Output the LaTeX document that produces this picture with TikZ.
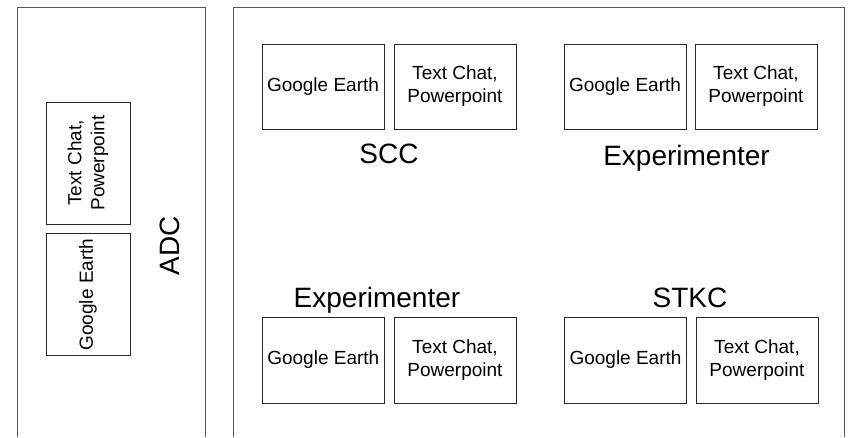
\documentclass[tikz,border=0pt]{standalone}
\usepackage{fontspec}
\setmainfont{Liberation Sans}
\begin{document}
\begin{tikzpicture}[x=1pt,y=-1pt,
  panel/.style={draw=black!65, line width=1pt},
  appbox/.style={draw=black!85, line width=1pt, minimum width=122pt, minimum height=85pt,
    inner sep=0pt, align=center, font=\fontsize{19}{23}\selectfont},
  sideapp/.style={appbox, rotate=90, minimum width=122pt, minimum height=84pt},
  grouplabel/.style={anchor=base, inner sep=0pt, font=\fontsize{28}{32}\selectfont}]
\useasboundingbox (0,0) rectangle (850,437);
% panels
\coordinate (lpA) at (17.5,437);
\coordinate (lpB) at (17.5,7);
\coordinate (lpC) at (205.3,7);
\coordinate (lpD) at (205.3,437);
\draw[panel] (lpA) -- (lpB) -- (lpC) -- (lpD);
\coordinate (rpA) at (233.7,437);
\coordinate (rpB) at (233.7,7);
\coordinate (rpC) at (844.3,7);
\coordinate (rpD) at (844.3,437);
\draw[panel] (rpA) -- (rpB) -- (rpC) -- (rpD);
% ADC
\node[sideapp] (adcTC) at (88,163) {Text Chat,\\Powerpoint};
\node[sideapp] (adcGE) at (88,294.5) {Google Earth};
\node[rotate=90, inner sep=0pt, font=\fontsize{28}{32}\selectfont] (adc) at (170,245.5) {ADC};
% SCC
\node[appbox] (sccGE) at (323,86.5) {Google Earth};
\node[appbox] (sccTC) at (455,86.5) {Text Chat,\\Powerpoint};
\node[grouplabel] (scc) at (389,163) {SCC};
% Experimenter top
\node[appbox] (exaGE) at (625,86.5) {Google Earth};
\node[appbox] (exaTC) at (756,86.5) {Text Chat,\\Powerpoint};
\node[grouplabel] (exa) at (686.5,165) {Experimenter};
% Experimenter bottom
\node[appbox, minimum height=86pt] (exbGE) at (323.3,360) {Google Earth};
\node[appbox, minimum height=86pt] (exbTC) at (455,360) {Text Chat,\\Powerpoint};
\node[grouplabel] (exb) at (377,307) {Experimenter};
% STKC
\node[appbox, minimum height=86pt] (stGE) at (625.5,360) {Google Earth};
\node[appbox, minimum height=86pt] (stTC) at (757,360) {Text Chat,\\Powerpoint};
\node[grouplabel] (stkc) at (690,307) {STKC};
\end{tikzpicture}
\end{document}
